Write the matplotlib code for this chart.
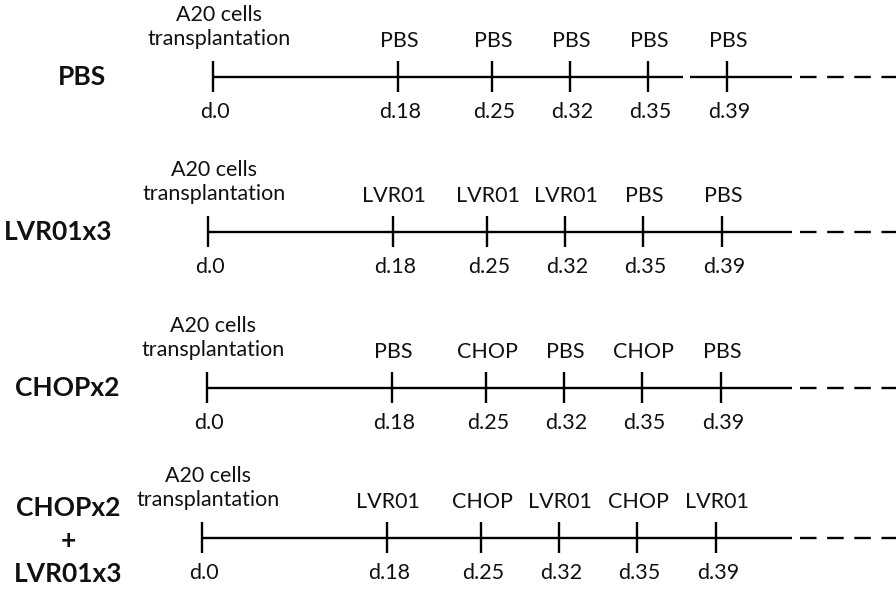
import matplotlib
matplotlib.use("Agg")
import matplotlib.pyplot as plt

# ---- data ----
groups = ["PBS", "LVR01x3", "CHOPx2", "CHOPx2\n+\nLVR01x3"]
days = [0, 18, 25, 32, 35, 39]
day_labels = ["d.%d" % d for d in days]
start_event = "A20 cells\ntransplantation"
treatments = [
    ["PBS", "PBS", "PBS", "PBS", "PBS"],
    ["LVR01", "LVR01", "LVR01", "PBS", "PBS"],
    ["PBS", "CHOP", "PBS", "CHOP", "PBS"],
    ["LVR01", "CHOP", "LVR01", "CHOP", "LVR01"],
]

# ---- layout (pixel space) ----
W, H = 896, 595
tick_offsets = [0, 185, 279, 357, 435, 514]   # schematic spacing of time points
row_x0 = [213, 208, 207, 202]
row_y = [77, 232, 388, 538]
title_x = [82, 58, 67, 68]
line_end = 792
dash_start, dash_end = 800, 896
FONT = "Lato"
fs = 15.5
fs_b = 19

fig = plt.figure(figsize=(W / 100, H / 100), dpi=100)
ax = fig.add_axes([0, 0, 1, 1])
ax.set_xlim(0, W)
ax.set_ylim(H, 0)
ax.axis("off")

lw = 1.7
for r, (grp, trt) in enumerate(zip(groups, treatments)):
    y = row_y[r]
    x0 = row_x0[r]
    xs = [x0 + o for o in tick_offsets]
    # main line
    if r == 0:
        ax.plot([x0, 683], [y, y], color="black", lw=lw, solid_capstyle="butt")
        ax.plot([690, line_end], [y, y], color="black", lw=lw, solid_capstyle="butt")
    else:
        ax.plot([x0, line_end], [y, y], color="black", lw=lw, solid_capstyle="butt")
    # dashed continuation
    ax.plot([dash_start, dash_end], [y, y], color="black", lw=lw,
            linestyle=(0, (7.0, 4.5)), dash_capstyle="butt")
    # ticks
    for x in xs:
        ax.plot([x, x], [y - 16, y + 15], color="black", lw=lw, solid_capstyle="butt")
    # labels below
    for x, lab in zip(xs, day_labels):
        ax.text(x + 2, y + 35, lab, ha="center", va="center", fontsize=fs,
                family=FONT, color="#111111")
    # labels above
    ax.text(x0 + 6, y - 50, start_event, ha="center", va="center", fontsize=fs,
            family=FONT, color="#111111", linespacing=1.3)
    for x, lab in zip(xs[1:], trt):
        ax.text(x + 1, y - 36, lab, ha="center", va="center", fontsize=fs,
                family=FONT, color="#111111")
    # group title
    ax.text(title_x[r], y + (3 if r == 3 else 0), grp, ha="center", va="center",
            fontsize=fs_b, family=FONT, fontweight="bold", color="#111111",
            linespacing=1.45)

fig.savefig("out.png", dpi=100, facecolor="white")
